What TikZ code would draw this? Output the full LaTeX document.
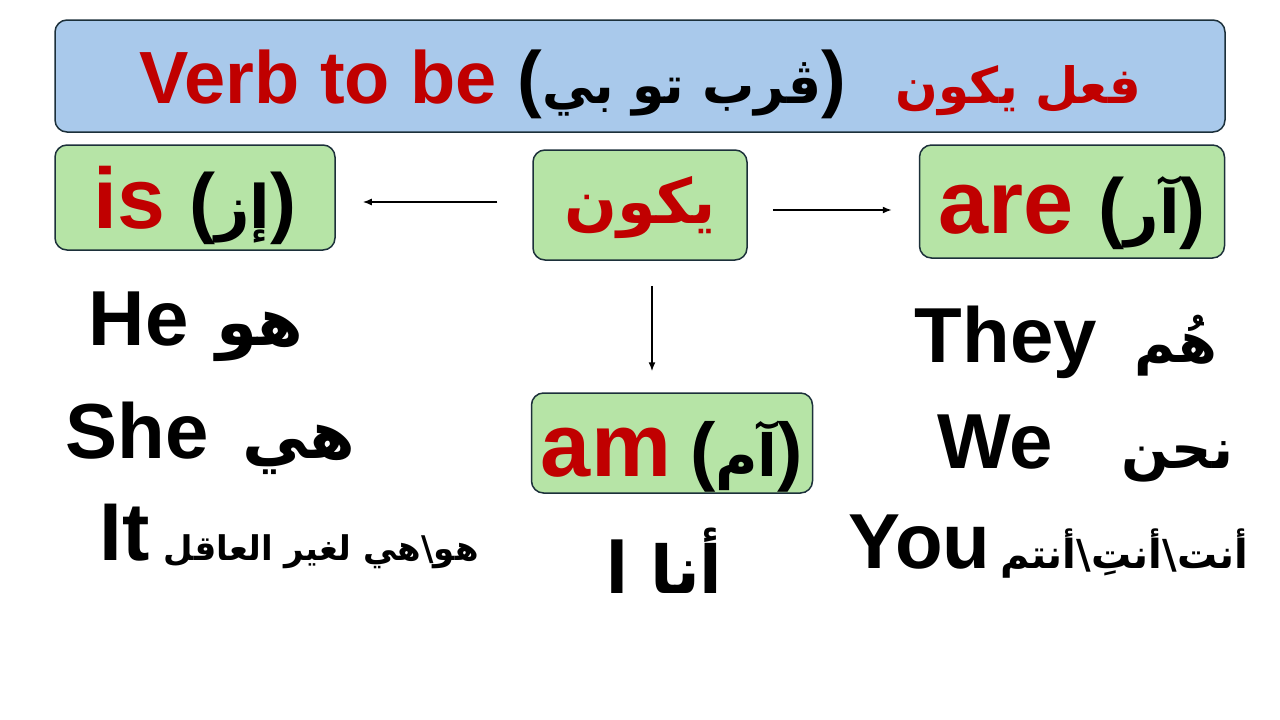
\documentclass[tikz,border=0pt]{standalone}
\usepackage{fontspec}
\setmainfont{Liberation Sans}
\newfontfamily\arabicfont[Script=Arabic]{DejaVu Sans}
\TeXXeTstate=1
\usepackage{tikz}
\usetikzlibrary{arrows,arrows.meta,calc,positioning}
\definecolor{titleblue}{RGB}{169,201,235}
\definecolor{boxgreen}{RGB}{182,228,166}
\definecolor{verbred}{RGB}{192,0,0}
\definecolor{boxline}{RGB}{28,48,58}
\newcommand{\arf}[1]{\arabicfont\fontsize{#1}{#1}\selectfont}
\newcommand{\parsize}[1]{\fontsize{#1}{#1}\selectfont}

\begin{document}
\begin{tikzpicture}[x=1pt,y=-1pt]
	\tikzstyle{every path}=[line width=1.5pt]

	\tikzstyle{titlebox}=[draw=boxline,fill=titleblue,rounded corners=12pt,minimum width=1170pt,minimum height=112pt,inner sep=0pt,text height=64pt,text depth=10pt,font=\bfseries\fontsize{74}{74}\selectfont]
	\tikzstyle{verbbox}=[draw=boxline,fill=boxgreen,rounded corners=12pt,inner sep=0pt,text depth=10pt,font=\bfseries\fontsize{90}{90}\selectfont]
	\tikzstyle{pron}=[anchor=base west,inner sep=0pt,font=\bfseries\fontsize{78}{80}\selectfont]
	\tikzstyle{l} = [draw, -{Latex[length=9pt,width=7pt]}, line width=1.5pt]
	\useasboundingbox (0,0) rectangle (1280,720);

	%% Title
	\node [titlebox] (title) at (640,76)
		{\textcolor{verbred}{Verb to be} ({\arf{52}\beginR ڤرب تو بي\endR})\hspace{50pt}%
		 \textcolor{verbred}{\arf{50}\beginR فعل يكون\endR}};

	%% Verb boxes
	\node [verbbox,minimum width=280pt,minimum height=105pt,text height=71pt,font=\bfseries\fontsize{86}{86}\selectfont] (is) at (195,197.5)
		{\textcolor{verbred}{is} {\parsize{78}({\arf{60}\beginR إز\endR})}};
	\node [verbbox,minimum width=214pt,minimum height=110pt,text height=46pt] (yakun) at (640,205)
		{\textcolor{verbred}{\arf{62}\beginR يكون\endR}};
	\node [verbbox,minimum width=305pt,minimum height=113pt,text height=73pt] (are) at (1072,201.5)
		{\textcolor{verbred}{are} {\parsize{78}({\arf{60}\beginR آر\endR})}};
	\node [verbbox,minimum width=281pt,minimum height=100pt,text height=76pt] (am) at (672,443)
		{\textcolor{verbred}{am}\hspace{-6pt} {\parsize{76}({\arf{58}\beginR آم\endR})}};

	\draw [l,shorten <=35pt,shorten >=27pt] ([yshift=3pt]yakun.west) -- ([yshift=3pt]yakun.west -| is.east);
	\draw [l,shorten <=25pt,shorten >=27pt] ([yshift=-5pt]yakun.east) -- ([yshift=-5pt]yakun.east -| are.west);
	\draw [l,shorten <=25pt,shorten >=21pt] ([xshift=12pt]yakun.south) -- ([xshift=12pt]yakun.south |- am.north);

	%% Pronouns
	\node [pron] (he) at (88,345) {He\hspace{28pt}{\arf{66}\beginR هو\endR}};
	\node [pron] (she) at (65,458) {She\hspace{34pt}{\arf{66}\beginR هي\endR}};
	\node [pron,font=\bfseries\fontsize{82}{82}\selectfont] (it) at (99,560) {It\hspace{14pt}{\arf{34}\beginR هو\textbackslash هي لغير العاقل\endR}};
	\node [pron] (they) at (914,362) {They\hspace{38pt}{\arf{56}\beginR هُم\endR}};
	\node [pron] (we) at (937,468) {We\hspace{68pt}{\arf{56}\beginR نحن\endR}};
	\node [pron] (you) at (848,568) {You\hspace{10pt}{\arf{40}\beginR أنت\textbackslash أنتِ\textbackslash أنتم\endR}};
	\node [pron] (i) at (606,593) {I\hspace{22pt}{\arf{66}\beginR أنا\endR}};

\end{tikzpicture}
\end{document}
